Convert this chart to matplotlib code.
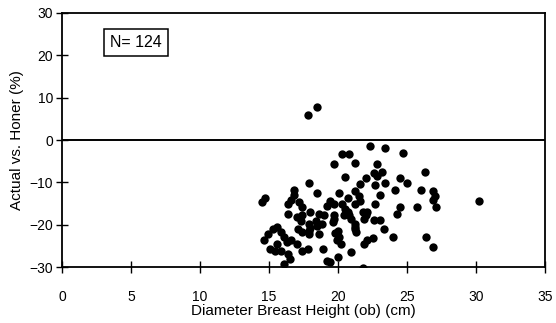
import matplotlib
matplotlib.use("Agg")
import matplotlib.pyplot as plt

# diameter (cm) and percent difference
dbh = [
    17.8, 18.5, 22.3, 23.4, 24.7, 20.3, 20.8, 19.7, 21.2, 22.8,
    26.3, 22.6, 23.2, 22.8, 20.5, 22.0, 24.5, 25.0, 21.6, 22.7,
    23.4, 24.1, 26.0, 20.1, 21.2, 26.9, 27.0, 26.9, 23.0, 21.5,
    21.6, 21.2, 30.2, 25.7, 27.1, 19.4, 19.7, 20.3, 20.5, 22.7,
    24.5, 24.3, 22.1, 22.0, 20.7, 20.9, 21.2, 19.7, 19.6, 22.6,
    23.0, 21.2, 23.3, 20.0, 20.1, 20.2, 24.0, 26.4, 26.9, 22.1,
    22.5, 21.9, 20.0, 19.4, 21.8, 14.7, 14.5, 17.9, 16.8, 16.8,
    18.5, 16.4, 17.2, 17.4, 19.2, 20.7, 16.4, 17.0, 17.3, 18.0,
    18.4, 18.5, 19.7, 20.4, 17.1, 17.4, 17.9, 14.9, 15.3, 15.6,
    15.9, 16.1, 16.6, 17.0, 14.6, 15.1, 15.4, 15.9, 16.5, 16.1,
    17.4, 17.8, 18.9, 19.2, 19.8, 19.9, 18.6, 19.0, 18.6, 18.8,
    17.9, 17.9, 21.2, 21.3, 21.8, 21.9, 20.9, 20.8, 16.6, 17.4,
    18.0, 15.6, 16.4, 16.3,
]
diff_pct = [
    6.0, 7.9, -1.3, -1.9, -3.1, -3.3, -3.3, -5.6, -5.5, -5.6,
    -7.6, -7.9, -7.6, -8.6, -8.8, -9.0, -9.0, -10.2, -10.4, -10.6,
    -10.2, -11.8, -11.7, -12.4, -12.1, -12.1, -13.3, -14.2, -13.0, -13.3,
    -14.5, -15.0, -14.5, -15.7, -15.7, -14.5, -15.0, -15.0, -16.2, -15.0,
    -15.7, -17.4, -16.9, -17.8, -16.9, -18.6, -19.8, -18.6, -19.3, -18.8,
    -18.8, -21.0, -21.0, -21.4, -22.9, -24.5, -22.9, -22.8, -25.2, -23.7,
    -23.1, -24.5, -27.5, -28.8, -30.3, -13.8, -14.6, -10.2, -11.8, -13.0,
    -12.6, -15.0, -14.6, -15.8, -15.5, -13.8, -17.4, -18.2, -19.0, -17.0,
    -19.0, -20.2, -17.8, -17.8, -21.0, -21.7, -22.1, -22.1, -21.0, -20.6,
    -21.7, -22.9, -23.7, -24.5, -23.7, -25.7, -26.1, -26.1, -28.1, -29.3,
    -26.1, -25.7, -25.7, -28.5, -22.0, -23.7, -22.1, -17.8, -17.4, -19.8,
    -19.8, -21.4, -20.5, -21.7, -17.0, -18.6, -26.5, -17.8, -14.2, -17.6,
    -20.8, -24.6, -26.9, -24.0,
]
x_ticks = [0, 5, 10, 15, 20, 25, 30, 35]
y_ticks = [-30, -20, -10, 0, 10, 20, 30]
n_label = "N= 124"

plt.rcParams['font.family'] = ['Liberation Sans', 'DejaVu Sans']

fig = plt.figure(figsize=(5.56, 3.23), dpi=100)
ax = fig.add_axes([0.1115, 0.173, 0.869, 0.787])

ax.scatter(dbh, diff_pct, s=36, color='black', marker='o', linewidths=0)
ax.axhline(0, color='black', linewidth=1.4)

ax.set_xlim(0, 35)
ax.set_ylim(-30, 30)
ax.set_xticks(x_ticks)
ax.set_yticks(y_ticks)
ax.tick_params(direction='inout', length=9, width=1, labelsize=10)
ax.tick_params(axis='x', pad=12)
ax.tick_params(axis='y', pad=2)

for side in ['left', 'right', 'top', 'bottom']:
    ax.spines[side].set_linewidth(1.3)

ax.text(3.5, 23, n_label, fontsize=11.5, ha='left', va='center',
        bbox=dict(facecolor='white', edgecolor='black', boxstyle='square,pad=0.4', linewidth=1.1))

ax.set_xlabel("Diameter Breast Height (ob) (cm)", fontsize=11, labelpad=0)
ax.set_ylabel("Actual vs. Honer (%)", fontsize=11, labelpad=4)

fig.savefig("out.png", dpi=100)
